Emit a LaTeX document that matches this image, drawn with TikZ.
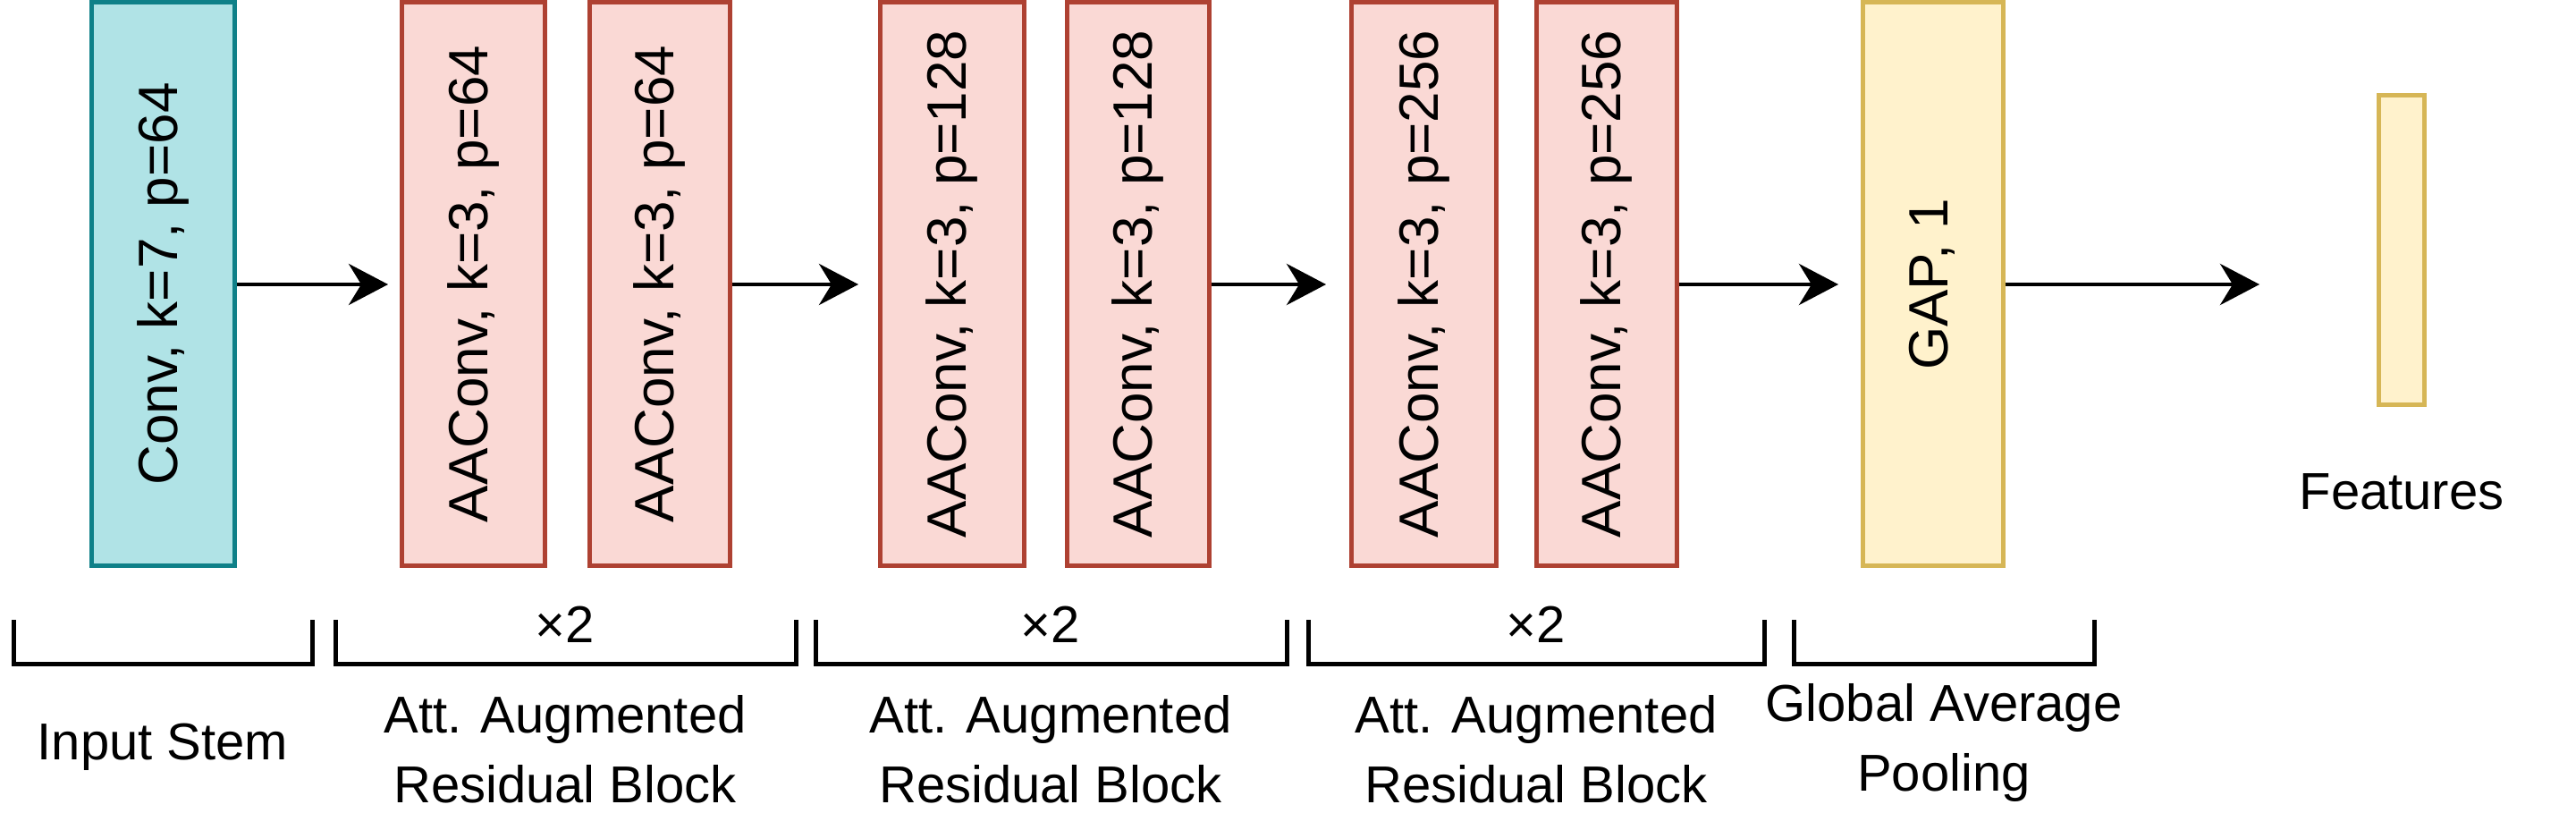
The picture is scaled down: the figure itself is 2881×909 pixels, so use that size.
\documentclass[tikz,border=0pt]{standalone}
\usepackage{fontspec}
\setmainfont{Liberation Sans}
\usetikzlibrary{arrows.meta}
\definecolor{tealF}{HTML}{B0E3E6}\definecolor{tealD}{HTML}{0E8088}
\definecolor{redF}{HTML}{FAD9D5}\definecolor{redD}{HTML}{AE4132}
\definecolor{yelF}{HTML}{FFF2CC}\definecolor{yelD}{HTML}{D6B656}
\begin{document}
\begin{tikzpicture}[x=1pt,y=-1pt,
  blk/.style={draw, line width=5pt, inner sep=0pt},
  conv/.style={blk, fill=tealF, draw=tealD},
  aac/.style={blk, fill=redF, draw=redD},
  gap/.style={blk, fill=yelF, draw=yelD},
  lbl/.style={font=\fontsize{62}{74}\selectfont, rotate=90},
  txt/.style={font=\fontsize{58}{78}\selectfont, align=center, inner sep=0pt},
  arr/.style={line width=4.5pt, -{Stealth[length=44pt,width=46pt,inset=14pt]}},
  brk/.style={line width=5pt}]
\useasboundingbox (0,0) rectangle (2881,909);
\newcommand\bx[6]{\node[#1, minimum width=#4-#3, minimum height=#6-#5] (#2) at ({(#3+#4)/2},{(#5+#6)/2}) {};}
\bx{conv}{c0}{102}{262}{3}{632}
\bx{aac}{a1}{449}{609}{3}{632}
\bx{aac}{a2}{659}{816}{3}{632}
\bx{aac}{a3}{984}{1145}{3}{632}
\bx{aac}{a4}{1193}{1352}{3}{632}
\bx{aac}{a5}{1511}{1673}{3}{632}
\bx{aac}{a6}{1718}{1875}{3}{632}
\bx{gap}{g}{2083}{2240}{3}{632}
\bx{gap}{f}{2660}{2711}{107}{452}
\node[lbl] (t0) at (c0) {Conv, k=7, p=64};
\node[lbl] (t1) at (a1) {AAConv, k=3, p=64};
\node[lbl] (t2) at (a2) {AAConv, k=3, p=64};
\node[lbl] (t3) at (a3) {AAConv, k=3, p=128};
\node[lbl] (t4) at (a4) {AAConv, k=3, p=128};
\node[lbl] (t5) at (a5) {AAConv, k=3, p=256};
\node[lbl] (t6) at (a6) {AAConv, k=3, p=256};
\node[lbl] (tg) at (2161,318) {GAP, 1};
\coordinate (e1) at (434,318);
\coordinate (e2) at (960,318);
\coordinate (e3) at (1483,318);
\coordinate (e4) at (2056,318);
\coordinate (e5) at (2527,318);
\draw[arr] (c0.east|-e1) -- (e1);
\draw[arr] (a2.east|-e2) -- (e2);
\draw[arr] (a4.east|-e3) -- (e3);
\draw[arr] (a6.east|-e4) -- (e4);
\draw[arr] (g.east|-e5) -- (e5);
\node[txt] (ft) at (2686,550) {Features};
\foreach \l/\r/\n in {15/349/b1,375/890/b2,912/1439/b3,1463/1973/b4,2006/2342/b5}{
  \coordinate (\n l) at (\l,693); \coordinate (\n r) at (\r,693);
  \draw[brk] (\n l) -- ++(0,49) -| (\n r);}
\node[txt] (x1) at (632,698) {×2};
\node[txt] (x2) at (1175,698) {×2};
\node[txt] (x3) at (1718,698) {×2};
\node[txt] (s0) at (182,835) {Input Stem};
\node[txt] (s1) at (632,838) {Att. Augmented\\Residual Block};
\node[txt] (s2) at (1175,838) {Att. Augmented\\Residual Block};
\node[txt] (s3) at (1718,838) {Att. Augmented\\Residual Block};
\node[txt] (s4) at (2174,830) {Global Average\\Pooling};
\end{tikzpicture}
\end{document}
